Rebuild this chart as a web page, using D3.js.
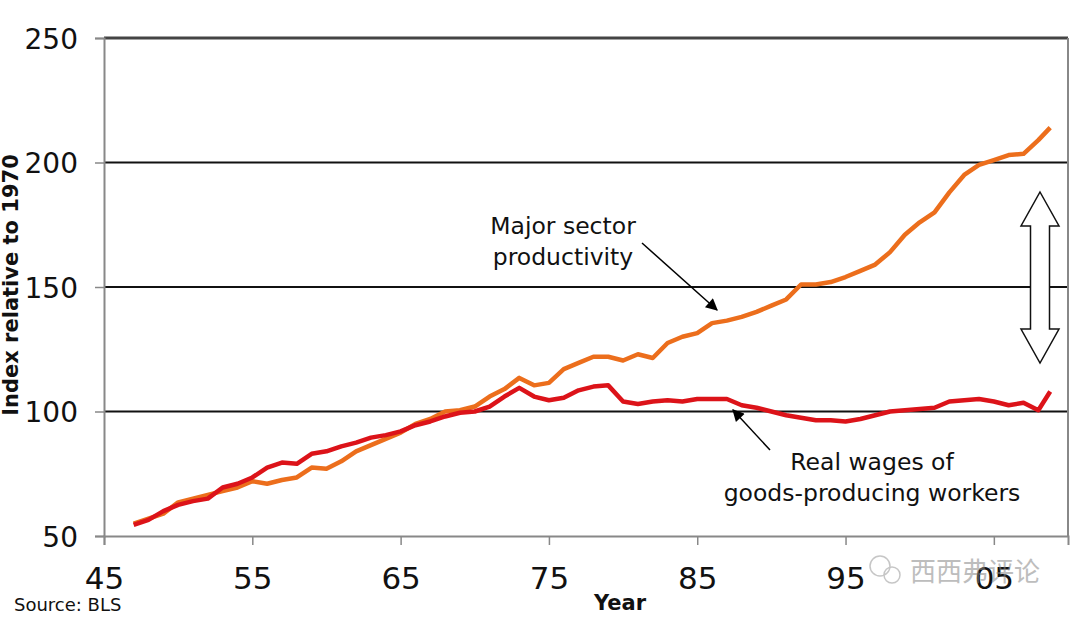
<!DOCTYPE html>
<html>
<head>
<meta charset="utf-8">
<script src="https://cdn.jsdelivr.net/npm/d3@7"></script>
<style>
  html, body { margin: 0; padding: 0; background: #fff; }
  svg { display: block; }
</style>
</head>
<body>
<svg id="chart" width="1080" height="618"></svg>
<script>
// ---- data ----
const years = [1947,1948,1949,1950,1951,1952,1953,1954,1955,1956,1957,1958,1959,1960,
  1961,1962,1963,1964,1965,1966,1967,1968,1969,1970,1971,1972,1973,1974,1975,1976,
  1977,1978,1979,1980,1981,1982,1983,1984,1985,1986,1987,1988,1989,1990,1991,1992,
  1993,1994,1995,1996,1997,1998,1999,2000,2001,2002,2003,2004,2005,2006,2007,2008,2008.8];
const productivity = [55,57,59,63.5,65,66.5,68,69.5,72,71,72.5,73.5,77.5,77,
  80,84,86.5,89,91.5,95,97,100,100.5,102,106,109,113.5,110.5,111.5,117,
  119.5,122,122,120.5,123,121.5,127.5,130,131.5,135.5,136.5,138,140,142.5,145,151,
  151,152,154,156.5,159,164,171,176,180,188,195,199,201,203,203.5,209,214];
const realWages = [54.5,56.5,60,62.5,64,65,69.5,71,73.5,77.5,79.5,79,83,84,
  86,87.5,89.5,90.5,92,94.5,96,98,99.5,100,102,106,109.5,106,104.5,105.5,
  108.5,110,110.5,104,103,104,104.5,104,105,105,105,102.5,101.5,100,98.5,97.5,
  96.5,96.5,96,97,98.5,100,100.5,101,101.5,104,104.5,105,104,102.5,103.5,100.5,108];
const yTicks = [50, 100, 150, 200, 250];
const xTicks = [1945, 1955, 1965, 1975, 1985, 1995, 2005];
const xTickLabels = ["45", "55", "65", "75", "85", "95", "05"];

(function () {
// ---- layout ----
const svg = d3.select("#chart");
const mLeft = 104, mRight = 1068, mTop = 38, mBottom = 536;
const x = d3.scaleLinear().domain([1945, 2010]).range([mLeft, mRight]);
const y = d3.scaleLinear().domain([50, 250]).range([mBottom, mTop]);
const font = "'DejaVu Sans', Verdana, sans-serif";

// gridlines (100,150,200)
svg.append("g").selectAll("line")
  .data([100, 150, 200]).join("line")
  .attr("x1", mLeft).attr("x2", mRight)
  .attr("y1", d => y(d)).attr("y2", d => y(d))
  .attr("stroke", "#111").attr("stroke-width", 2);

// plot frame
svg.append("line").attr("x1", mLeft).attr("x2", mRight).attr("y1", y(250)).attr("y2", y(250))
  .attr("stroke", "#444").attr("stroke-width", 3);
svg.append("line").attr("x1", mRight).attr("x2", mRight).attr("y1", mTop).attr("y2", mBottom)
  .attr("stroke", "#888").attr("stroke-width", 2);

// y axis
const yAxis = d3.axisLeft(y).tickValues(yTicks).tickSize(9).tickPadding(17).tickFormat(d3.format("d"));
const gy = svg.append("g").attr("transform", `translate(${mLeft},0)`).call(yAxis);
gy.select(".domain").attr("stroke", "#888").attr("stroke-width", 2);
gy.selectAll(".tick line").attr("stroke", "#888").attr("stroke-width", 1.5);
gy.selectAll(".tick text").attr("font-family", font).attr("font-size", 28).attr("fill", "#111")
  .attr("dy", "0.36em");

// x axis
const xAxis = d3.axisBottom(x).tickValues(xTicks).tickSize(9).tickPadding(22)
  .tickFormat((d, i) => xTickLabels[i]);
const gx = svg.append("g").attr("transform", `translate(0,${mBottom})`).call(xAxis);
gx.select(".domain").attr("stroke", "#888").attr("stroke-width", 2);
gx.selectAll(".tick line").attr("stroke", "#888").attr("stroke-width", 1.5);
gx.selectAll(".tick text").attr("font-family", font).attr("font-size", 31).attr("fill", "#111");

// lines
const line = d3.line().x((d, i) => x(years[i])).y(d => y(d)).curve(d3.curveLinear);
svg.append("path").datum(productivity).attr("d", line)
  .attr("fill", "none").attr("stroke", "#EC6E1C").attr("stroke-width", 4.5)
  .attr("stroke-linejoin", "round");
svg.append("path").datum(realWages).attr("d", line)
  .attr("fill", "none").attr("stroke", "#DC1319").attr("stroke-width", 4.5)
  .attr("stroke-linejoin", "round");

// arrow marker
const defs = svg.append("defs");
defs.append("marker").attr("id", "ah").attr("viewBox", "0 0 10 10")
  .attr("refX", 9).attr("refY", 5).attr("markerWidth", 14).attr("markerHeight", 12)
  .attr("markerUnits", "userSpaceOnUse").attr("orient", "auto")
  .append("path").attr("d", "M0,0 L10,5 L0,10 Z").attr("fill", "#000");

// annotations
svg.append("line").attr("x1", 642).attr("y1", 243).attr("x2", 717).attr("y2", 310)
  .attr("stroke", "#000").attr("stroke-width", 1.5).attr("marker-end", "url(#ah)");
svg.append("line").attr("x1", 770).attr("y1", 450).attr("x2", 733).attr("y2", 410)
  .attr("stroke", "#000").attr("stroke-width", 1.5).attr("marker-end", "url(#ah)");

const ann = svg.append("g").attr("font-family", font).attr("font-size", 23.5).attr("fill", "#111")
  .attr("text-anchor", "middle");
ann.append("text").attr("x", 563).attr("y", 234).text("Major sector");
ann.append("text").attr("x", 563).attr("y", 265).text("productivity");
ann.append("text").attr("x", 872).attr("y", 470).text("Real wages of");
ann.append("text").attr("x", 872).attr("y", 501).text("goods-producing workers");

// double-headed outline arrow
const cx = 1040, t = 192, b = 363, hw = 19, sw = 9.5, hh = 34;
const dpath = `M${cx},${t} L${cx + hw},${t + hh} L${cx + sw},${t + hh} L${cx + sw},${b - hh} L${cx + hw},${b - hh}
  L${cx},${b} L${cx - hw},${b - hh} L${cx - sw},${b - hh} L${cx - sw},${t + hh} L${cx - hw},${t + hh} Z`;
svg.append("path").attr("d", dpath).attr("fill", "#fff").attr("stroke", "#111").attr("stroke-width", 1.5);

// axis titles and source
svg.append("text").attr("transform", `translate(18,285) rotate(-90)`)
  .attr("text-anchor", "middle").attr("font-family", font).attr("font-weight", "bold")
  .attr("font-size", 21).attr("fill", "#111").text("Index relative to 1970");
svg.append("text").attr("x", 620).attr("y", 610).attr("text-anchor", "middle")
  .attr("font-family", font).attr("font-weight", "bold").attr("font-size", 21).attr("fill", "#111")
  .text("Year");
svg.append("text").attr("x", 14).attr("y", 611)
  .attr("font-family", font).attr("font-size", 18).attr("fill", "#111").text("Source: BLS");

// watermark
const wm = svg.append("g").attr("opacity", 0.55);
wm.append("circle").attr("cx", 880).attr("cy", 566).attr("r", 10).attr("fill", "none").attr("stroke", "#999").attr("stroke-width", 1.5);
wm.append("circle").attr("cx", 892).attr("cy", 575).attr("r", 8).attr("fill", "none").attr("stroke", "#999").attr("stroke-width", 1.5);
wm.append("text").attr("x", 910).attr("y", 581).attr("font-family", "'Noto Sans CJK SC', sans-serif")
  .attr("font-size", 26).attr("fill", "#888").text("西西弗评论");
})();
</script>
</body>
</html>
